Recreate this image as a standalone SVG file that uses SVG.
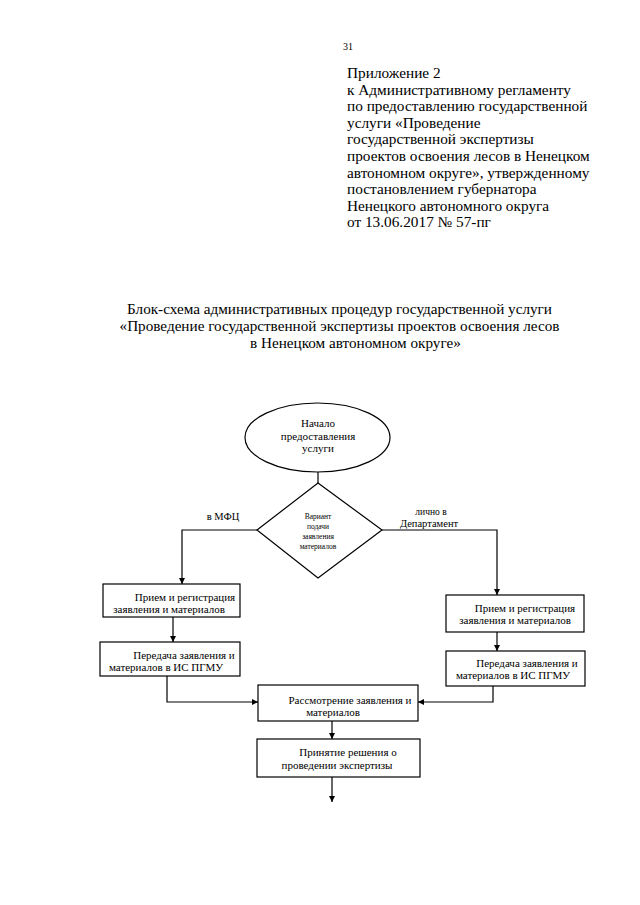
<svg xmlns="http://www.w3.org/2000/svg" width="640" height="905" viewBox="0 0 640 905">
<style>
text{font-family:"Liberation Serif","Times New Roman",serif;fill:#000}
.hdr{font-size:15.3px}
.ttl{font-size:15.2px;text-anchor:middle}
.bx{font-size:11px;text-anchor:middle}
.sm{font-size:7.5px;text-anchor:middle}
.lbl{font-size:10.5px;text-anchor:middle}
.shape{fill:#fff;stroke:#000;stroke-width:1.2}
.ln{fill:none;stroke:#000;stroke-width:1.2}
</style>
<defs>
<marker id="ah" viewBox="0 0 10 10" refX="10" refY="5" markerWidth="6" markerHeight="6" markerUnits="userSpaceOnUse" orient="auto">
<path d="M0,0 L10,5 L0,10 z" fill="#000"/>
</marker>
</defs>
<rect width="640" height="905" fill="#fff"/>
<g id="header">
<text x="343" y="50" style="font-size:10px">31</text>
<text class="hdr" x="347" y="78">Приложение 2</text>
<text class="hdr" x="347" y="94.6">к Административному регламенту</text>
<text class="hdr" x="347" y="111.2">по предоставлению государственной</text>
<text class="hdr" x="347" y="127.8">услуги «Проведение</text>
<text class="hdr" x="347" y="144.4">государственной экспертизы</text>
<text class="hdr" x="347" y="161">проектов освоения лесов в Ненецком</text>
<text class="hdr" x="347" y="177.6">автономном округе», утвержденному</text>
<text class="hdr" x="347" y="194.2">постановлением губернатора</text>
<text class="hdr" x="347" y="210.8">Ненецкого автономного округа</text>
<text class="hdr" x="347" y="227.4">от 13.06.2017 № 57-пг</text>
</g>
<g id="title">
<text class="ttl" x="339.5" y="314">Блок-схема административных процедур государственной услуги</text>
<text class="ttl" x="339.5" y="331">«Проведение государственной экспертизы проектов освоения лесов</text>
<text class="ttl" x="250" y="348" style="text-anchor:start">в Ненецком автономном округе»</text>
</g>
<g id="connectors">
<line class="ln" x1="318" y1="472" x2="318" y2="483"/>
<polyline class="ln" points="257,530 182,530 182,584" marker-end="url(#ah)"/>
<polyline class="ln" points="382,530 497,530 497,595" marker-end="url(#ah)"/>
<line class="ln" x1="173" y1="617" x2="173" y2="642" marker-end="url(#ah)"/>
<line class="ln" x1="497" y1="632" x2="497" y2="651" marker-end="url(#ah)"/>
<polyline class="ln" points="167,676 167,702 258,702" marker-end="url(#ah)"/>
<polyline class="ln" points="493,686 493,702 418,702" marker-end="url(#ah)"/>
<line class="ln" x1="332" y1="721" x2="332" y2="739" marker-end="url(#ah)"/>
<line class="ln" x1="332" y1="777" x2="332" y2="802" marker-end="url(#ah)"/>
<text class="lbl" x="223" y="520">в МФЦ</text>
<text class="lbl" style="font-size:9.5px" x="431" y="515">лично в</text>
<text class="lbl" x="429" y="527">Департамент</text>
</g>
<g id="start">
<ellipse class="shape" cx="317.5" cy="437.5" rx="72.5" ry="34.5"/>
<text class="bx" x="318" y="427">Начало</text>
<text class="bx" x="318" y="440">предоставления</text>
<text class="bx" x="318" y="452">услуги</text>
</g>
<g id="decision">
<polygon class="shape" points="318,483 382,530 318,578 257,530"/>
<text class="sm" x="318" y="519">Вариант</text>
<text class="sm" x="318" y="529">подачи</text>
<text class="sm" x="318" y="539">заявления</text>
<text class="sm" x="318" y="549">материалов</text>
</g>
<g id="mfc-receive">
<rect class="shape" x="103" y="584" width="137" height="33"/>
<text class="bx" x="185" y="601">Прием и регистрация</text>
<text class="bx" x="169" y="613">заявления и материалов</text>
</g>
<g id="mfc-transfer">
<rect class="shape" x="100" y="642" width="140" height="34"/>
<text class="bx" x="184" y="659">Передача заявления и</text>
<text class="bx" x="166" y="671">материалов в ИС ПГМУ</text>
</g>
<g id="dep-receive">
<rect class="shape" x="446" y="595" width="138" height="37"/>
<text class="bx" x="525" y="612">Прием и регистрация</text>
<text class="bx" x="515" y="624">заявления и материалов</text>
</g>
<g id="dep-transfer">
<rect class="shape" x="446" y="651" width="139" height="35"/>
<text class="bx" x="527" y="667">Передача заявления и</text>
<text class="bx" x="513" y="679">материалов в ИС ПГМУ</text>
</g>
<g id="review">
<rect class="shape" x="258" y="685" width="160" height="36"/>
<text class="bx" x="350" y="704">Рассмотрение заявления и</text>
<text class="bx" x="333" y="716">материалов</text>
</g>
<g id="decision-expertise">
<rect class="shape" x="257" y="739" width="163" height="38"/>
<text class="bx" x="348" y="756">Принятие решения о</text>
<text class="bx" x="337" y="769">проведении экспертизы</text>
</g>
</svg>
